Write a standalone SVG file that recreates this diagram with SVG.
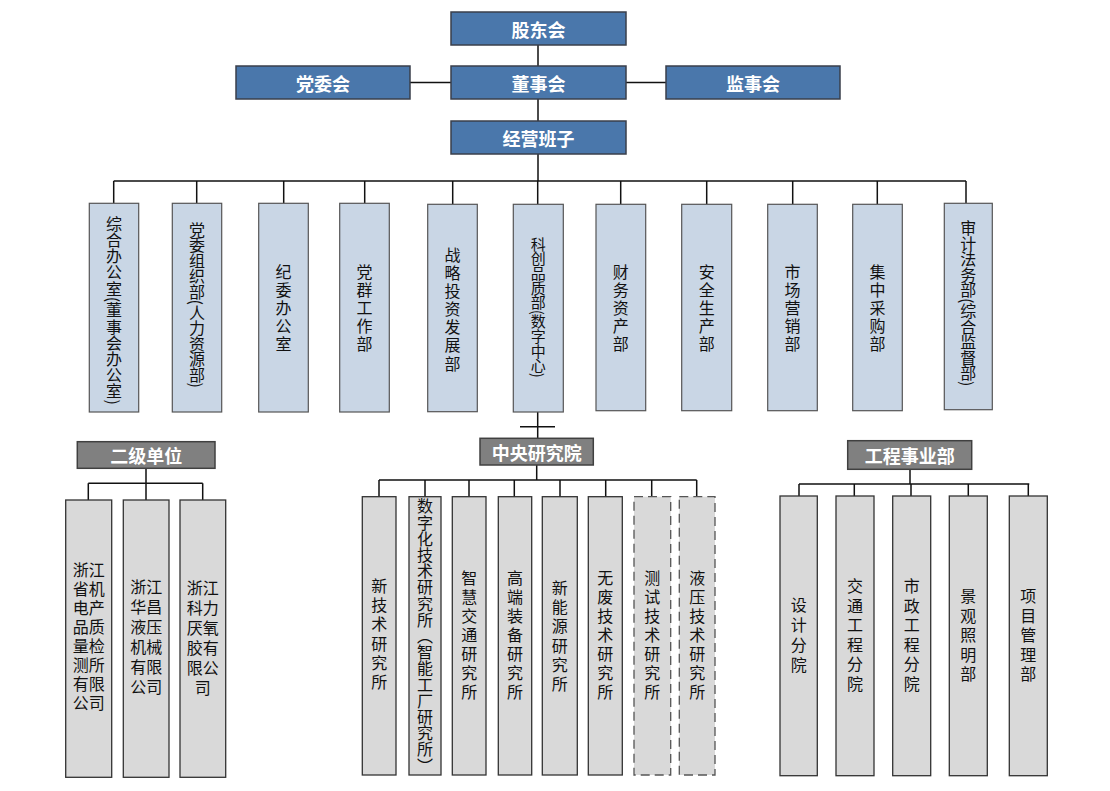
<svg xmlns="http://www.w3.org/2000/svg" width="1110" height="791" viewBox="0 0 1110 791">
<style>
.blue{fill:#4a77ab;stroke:#3a3f4b;stroke-width:1.5}
.dept{fill:#c9d6e5;stroke:#555;stroke-width:1.2}
.head{fill:#808080;stroke:#404040;stroke-width:1.5}
.unit{fill:#d9d9d9;stroke:#333;stroke-width:1.3}
.dash{fill:#d9d9d9;stroke:#555;stroke-width:1.3;stroke-dasharray:9 5}
.ht{font-family:"Noto Sans CJK SC","Liberation Sans",sans-serif;font-size:18px;font-weight:bold;fill:#fff;text-anchor:middle;dominant-baseline:central}
.vt{font-family:"Noto Sans CJK SC",sans-serif;font-size:16px;fill:#111;text-anchor:middle;writing-mode:vertical-rl}
.hz{font-family:"Liberation Sans","Noto Sans CJK SC",sans-serif;font-size:16px;fill:#111;text-anchor:middle;dominant-baseline:central}
.ln{stroke:#111;stroke-width:1.5;fill:none}
</style>
<rect width="1110" height="791" fill="#fff"/>
<g id="connectors">
<path class="ln" d="M538 45V66M538 99V121M538 154V181M410 82.5H451M626 82.5H666"/>
<path class="ln" d="M113.7 181H966M113.7 181V203M196.7 181V203M283.7 181V203M364.7 181V203M452.7 181V204M537.7 181V204M620.7 181V204M706.7 181V204M792.7 181V204M877.3 181V204M966 181V203"/>
<path class="ln" d="M537.7 412V438.3M520 426.7H555M536.7 465V480M379 480H696.7M379 480V497M425 480V497M469 480V497M514.3 480V497M560 480V497M605.7 480V497M651.7 480V497M696.7 480V497"/>
<path class="ln" d="M146 468.3V483.3M88.3 483.3H202.7M88.3 483.3V500M146 483.3V500M202.7 483.3V500"/>
<path class="ln" d="M910 469.3V484M799 484H1029.3M799 484V496M854.3 484V496M911 484V496M968.3 484V496M1028.3 484V496"/>
</g>
<g id="n-gudonghui"><rect class="blue" x="451" y="12" width="175" height="33"/><text class="ht" x="538.5" y="28.5">股东会</text></g>
<g id="n-dangweihui"><rect class="blue" x="236" y="66" width="174" height="33"/><text class="ht" x="323" y="82.5">党委会</text></g>
<g id="n-dongshihui"><rect class="blue" x="451" y="66" width="175" height="33"/><text class="ht" x="538.5" y="82.5">董事会</text></g>
<g id="n-jianshihui"><rect class="blue" x="666" y="66" width="174" height="33"/><text class="ht" x="753" y="82.5">监事会</text></g>
<g id="n-jingying"><rect class="blue" x="451" y="121" width="175" height="33"/><text class="ht" x="538.5" y="137.5">经营班子</text></g>

<g id="d1"><rect class="dept" x="89.3" y="203.3" width="49.4" height="208.7"/><text class="vt" x="114" y="310.5" style="letter-spacing:0.2px">综合办公室(董事会办公室)</text></g>
<g id="d2"><rect class="dept" x="172.3" y="203.3" width="49.4" height="208.7"/><text class="vt" x="197" y="304.5" style="letter-spacing:-0.4px">党委组织部(人力资源部)</text></g>
<g id="d3"><rect class="dept" x="258.7" y="203.3" width="49.6" height="208.7"/><text class="vt" x="283.5" y="307.5" textLength="88" lengthAdjust="spacing">纪委办公室</text></g>
<g id="d4"><rect class="dept" x="339.7" y="203.3" width="49.6" height="208.7"/><text class="vt" x="364.5" y="307.5" textLength="88" lengthAdjust="spacing">党群工作部</text></g>
<g id="d5"><rect class="dept" x="427.7" y="204.3" width="49.6" height="207.4"/><text class="vt" x="452.5" y="309" textLength="125" lengthAdjust="spacing">战略投资发展部</text></g>
<g id="d6"><rect class="dept" x="513.3" y="204.3" width="50" height="207.7"/><text class="vt" x="538.3" y="307" style="font-size:15px;letter-spacing:-0.4px">科创品质部(数字中心)</text></g>
<g id="d7"><rect class="dept" x="596" y="204.3" width="49.7" height="206.4"/><text class="vt" x="620.8" y="307.5" textLength="88" lengthAdjust="spacing">财务资产部</text></g>
<g id="d8"><rect class="dept" x="681.7" y="204.3" width="50" height="206.4"/><text class="vt" x="706.7" y="307.5" textLength="88" lengthAdjust="spacing">安全生产部</text></g>
<g id="d9"><rect class="dept" x="767.7" y="204.3" width="49.6" height="206.4"/><text class="vt" x="792.5" y="307.5" textLength="88" lengthAdjust="spacing">市场营销部</text></g>
<g id="d10"><rect class="dept" x="852.7" y="204.3" width="49.6" height="206.4"/><text class="vt" x="877.5" y="307.5" textLength="88" lengthAdjust="spacing">集中采购部</text></g>
<g id="d11"><rect class="dept" x="944.3" y="203.3" width="48" height="206.4"/><text class="vt" x="968.3" y="303" style="letter-spacing:-0.4px">审计法务部(综合监督部)</text></g>

<g id="h-erji"><rect class="head" x="77.3" y="441.7" width="137.7" height="26.6"/><text class="ht" x="146.2" y="455">二级单位</text></g>
<g id="u1"><rect class="unit" x="65.7" y="500" width="46" height="277.3"/><text class="hz" x="88.7"><tspan x="88.7" y="570">浙江</tspan><tspan x="88.7" y="589">省机</tspan><tspan x="88.7" y="608">电产</tspan><tspan x="88.7" y="627">品质</tspan><tspan x="88.7" y="646">量检</tspan><tspan x="88.7" y="665">测所</tspan><tspan x="88.7" y="684">有限</tspan><tspan x="88.7" y="703">公司</tspan></text></g>
<g id="u2"><rect class="unit" x="123.3" y="500" width="45.7" height="277.3"/><text class="hz" x="146.2"><tspan x="146.2" y="587">浙江</tspan><tspan x="146.2" y="607">华昌</tspan><tspan x="146.2" y="627">液压</tspan><tspan x="146.2" y="647">机械</tspan><tspan x="146.2" y="667">有限</tspan><tspan x="146.2" y="687">公司</tspan></text></g>
<g id="u3"><rect class="unit" x="180" y="500" width="45.7" height="277.3"/><text class="hz" x="202.8"><tspan x="202.8" y="588">浙江</tspan><tspan x="202.8" y="608">科力</tspan><tspan x="202.8" y="628">厌氧</tspan><tspan x="202.8" y="648">胶有</tspan><tspan x="202.8" y="668">限公</tspan><tspan x="202.8" y="688">司</tspan></text></g>

<g id="h-zhongyang"><rect class="head" x="480" y="438.3" width="113.3" height="26.7"/><text class="ht" x="536.7" y="451.7">中央研究院</text></g>
<g id="r1"><rect class="unit" x="362.3" y="496.7" width="33.7" height="278.3"/><text class="vt" x="379.2" y="634" textLength="112" lengthAdjust="spacing">新技术研究所</text></g>
<g id="r2"><rect class="unit" x="409" y="496.7" width="32" height="278.3"/><text class="vt" x="425" y="636" style="letter-spacing:0.2px">数字化技术研究所（智能工厂研究所）</text></g>
<g id="r3"><rect class="unit" x="452.3" y="496.7" width="33.7" height="278.3"/><text class="vt" x="469.2" y="635" textLength="130" lengthAdjust="spacing">智慧交通研究所</text></g>
<g id="r4"><rect class="unit" x="498.3" y="496.7" width="33.4" height="278.3"/><text class="vt" x="515" y="635" textLength="130" lengthAdjust="spacing">高端装备研究所</text></g>
<g id="r5"><rect class="unit" x="542.3" y="496.7" width="35" height="278.3"/><text class="vt" x="559.8" y="636" textLength="112" lengthAdjust="spacing">新能源研究所</text></g>
<g id="r6"><rect class="unit" x="588.3" y="496.7" width="34" height="278.3"/><text class="vt" x="605.3" y="635" textLength="130" lengthAdjust="spacing">无废技术研究所</text></g>
<g id="r7"><rect class="dash" x="634" y="496.7" width="36.7" height="278.3"/><text class="vt" x="652.3" y="635" textLength="130" lengthAdjust="spacing">测试技术研究所</text></g>
<g id="r8"><rect class="dash" x="679.3" y="496.7" width="35.7" height="278.3"/><text class="vt" x="697.2" y="635" textLength="130" lengthAdjust="spacing">液压技术研究所</text></g>

<g id="h-gongcheng"><rect class="head" x="847.7" y="440.7" width="124" height="28.6"/><text class="ht" x="909.7" y="455">工程事业部</text></g>
<g id="e1"><rect class="unit" x="780" y="496" width="37.3" height="279.7"/><text class="vt" x="798.7" y="635" textLength="76" lengthAdjust="spacing">设计分院</text></g>
<g id="e2"><rect class="unit" x="836" y="496" width="38" height="279.7"/><text class="vt" x="855" y="635" textLength="114" lengthAdjust="spacing">交通工程分院</text></g>
<g id="e3"><rect class="unit" x="892.7" y="496" width="38" height="279.7"/><text class="vt" x="911.7" y="635" textLength="114" lengthAdjust="spacing">市政工程分院</text></g>
<g id="e4"><rect class="unit" x="949.3" y="496" width="38" height="279.7"/><text class="vt" x="968.3" y="635" textLength="94" lengthAdjust="spacing">景观照明部</text></g>
<g id="e5"><rect class="unit" x="1009.3" y="496" width="38" height="279.7"/><text class="vt" x="1028.3" y="635" textLength="94" lengthAdjust="spacing">项目管理部</text></g>
</svg>
